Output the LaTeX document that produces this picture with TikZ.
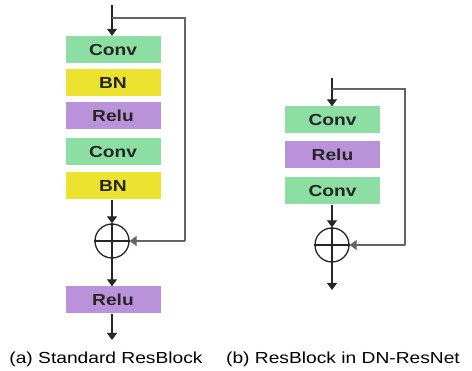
\documentclass[tikz,border=0pt]{standalone}
\usepackage{fontspec}
\setmainfont{Liberation Sans}
\usetikzlibrary{arrows.meta}
\definecolor{convc}{RGB}{140,222,162}
\definecolor{bnc}{RGB}{236,226,48}
\definecolor{reluc}{RGB}{186,146,218}
\definecolor{fbc}{RGB}{100,100,100}
\tikzset{
  blk/.style={minimum width=95pt, minimum height=27pt, inner sep=0pt, draw=none,
    font=\fontsize{16}{18}\selectfont\bfseries, text=black!85},
  conv/.style={blk, fill=convc},
  bn/.style={blk, fill=bnc},
  relu/.style={blk, fill=reluc},
  sumc/.style={circle, draw=black!85, line width=1.3pt, minimum size=34pt, inner sep=0pt},
  arr/.style={line width=1.2pt, draw=black!85, -{Triangle[width=10pt,length=7pt]}},
  ln/.style={line width=1.2pt, draw=black!85},
  fb/.style={line width=1.2pt, draw=fbc},
  fbarr/.style={line width=1.2pt, draw=fbc, -{Triangle[width=10pt,length=7pt]}},
  captxt/.style={font=\fontsize{16}{18}\selectfont, inner sep=0pt}
}
\newcommand{\hs}[1]{\scalebox{1.2}[1]{#1}}
\begin{document}
\begin{tikzpicture}[x=1pt,y=-1pt]
\useasboundingbox (0,0) rectangle (472,371);
% left column
\coordinate (ain) at (112,5);
\coordinate (asplit) at (112,18);
\coordinate (acorner1) at (185,18);
\coordinate (acorner2) at (185,241);
\node[conv] (ac1) at (113,49.5) {\hs{Conv}};
\node[bn] (ab1) at (113,82.5) {\hs{BN}};
\node[relu] (ar1) at (113,116) {\hs{Relu}};
\node[conv] (ac2) at (113,152) {\hs{Conv}};
\node[bn] (ab2) at (113,186) {\hs{BN}};
\node[sumc] (as) at (112,241) {};
\node[relu] (ar2) at (113,300) {\hs{Relu}};
\coordinate (aout) at (112,340);
\draw[arr] (ain) -- (ac1.north -| ain);
\draw[fb] (asplit) -- (acorner1) -- (acorner2);
\draw[fbarr] (acorner2) -- (as.east);
\draw[arr] (ab2.south -| as) -- (as.north);
\draw[ln] (as.north) -- (as.south);
\draw[arr] (as.south) -- (ar2.north -| as);
\draw[ln] (as.west) -- (as.east);
\draw[arr] (ar2.south -| as) -- (aout);
% right column
\coordinate (bin) at (332,78);
\coordinate (bsplit) at (332,89);
\coordinate (bcorner1) at (405,89);
\coordinate (bcorner2) at (405,245);
\node[conv] (bc1) at (332.5,120) {\hs{Conv}};
\node[relu] (br1) at (332.5,155) {\hs{Relu}};
\node[conv] (bc2) at (332.5,191) {\hs{Conv}};
\node[sumc] (bs) at (332,245) {};
\coordinate (bout) at (332,290);
\draw[arr] (bin) -- (bc1.north -| bin);
\draw[fb] (bsplit) -- (bcorner1) -- (bcorner2);
\draw[fbarr] (bcorner2) -- (bs.east);
\draw[arr] (bc2.south -| bs) -- (bs.north);
\draw[ln] (bs.west) -- (bs.east);
\draw[arr] (bs.north) -- (bout);
% captions
\node[captxt] (capa) at (106,359) {\hs{(a) Standard ResBlock}};
\node[captxt] (capb) at (343,359) {\hs{(b) ResBlock in DN-ResNet}};
\end{tikzpicture}
\end{document}
